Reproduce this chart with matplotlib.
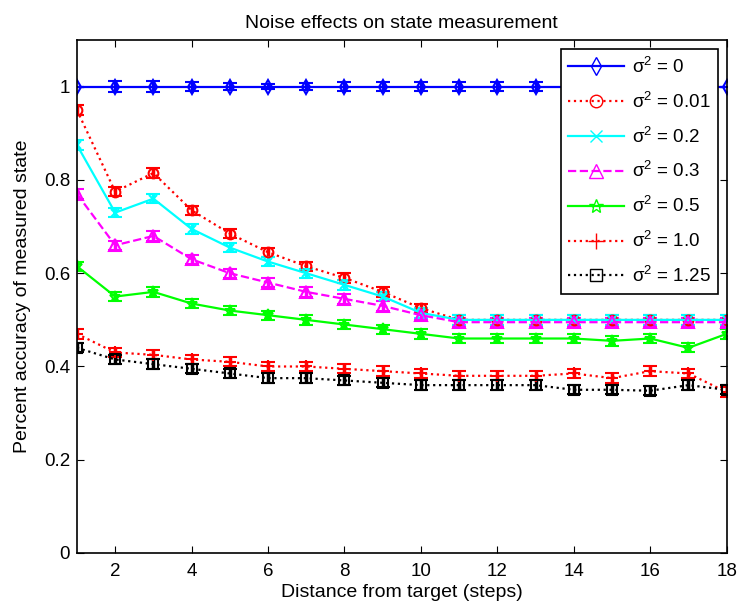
import matplotlib
matplotlib.use("Agg")
import matplotlib.pyplot as plt
from matplotlib.lines import Line2D

plt.rcParams['font.family'] = ['Liberation Sans', 'DejaVu Sans']
plt.rcParams['mathtext.fontset'] = 'custom'
plt.rcParams['mathtext.rm'] = 'Liberation Sans'

x = list(range(1, 19))
labels = ['σ$^2$ = 0', 'σ$^2$ = 0.01', 'σ$^2$ = 0.2', 'σ$^2$ = 0.3',
          'σ$^2$ = 0.5', 'σ$^2$ = 1.0', 'σ$^2$ = 1.25']

s0 = [1.0] * 18
s001 = [0.95, 0.775, 0.815, 0.735, 0.685, 0.645, 0.615, 0.59, 0.56, 0.525,
        0.5, 0.5, 0.5, 0.5, 0.5, 0.5, 0.5, 0.5]
s02 = [0.875, 0.73, 0.76, 0.695, 0.655, 0.625, 0.6, 0.575, 0.55, 0.515,
       0.5, 0.5, 0.5, 0.5, 0.5, 0.5, 0.5, 0.5]
s03 = [0.77, 0.66, 0.68, 0.63, 0.6, 0.58, 0.56, 0.545, 0.53, 0.51,
       0.495, 0.495, 0.495, 0.495, 0.495, 0.495, 0.495, 0.495]
s05 = [0.615, 0.55, 0.56, 0.535, 0.52, 0.51, 0.5, 0.49, 0.48, 0.47,
       0.46, 0.46, 0.46, 0.46, 0.455, 0.46, 0.44, 0.47]
s10 = [0.47, 0.43, 0.425, 0.415, 0.41, 0.4, 0.4, 0.395, 0.39, 0.385,
       0.38, 0.38, 0.38, 0.385, 0.375, 0.39, 0.385, 0.345]
s125 = [0.44, 0.415, 0.405, 0.395, 0.385, 0.375, 0.375, 0.37, 0.365, 0.36,
        0.36, 0.36, 0.36, 0.35, 0.35, 0.348, 0.36, 0.35]

err0 = [0.0, 0.012, 0.012, 0.01, 0.008, 0.005, 0.008, 0.01, 0.01, 0.01,
        0.01, 0.01, 0.01, 0.01, 0.01, 0.01, 0.01, 0.0]
err = [0.01] * 18

series = [s0, s001, s02, s03, s05, s10, s125]
errs = [err0, err, err, err, err, err, err]
colors = ['#0000ff', '#ff0000', '#00ffff', '#ff00ff', '#00ff00', '#ff0000', '#000000']
markers = ['d', 'o', 'x', '^', '*', '+', 's']
styles = ['-', ':', '-', '--', '-', ':', ':']
msizes = [7, 7, 6, 8, 8, 9, 7]

fig = plt.figure(figsize=(7.4, 6.08), dpi=100)
ax = fig.add_axes([0.104, 0.0905, 0.878, 0.8435])

handles = []
for y, e, c, m, ls, ms, lab in zip(series, errs, colors, markers, styles, msizes, labels):
    ax.errorbar(x, y, yerr=e, color=c, marker=m, linestyle=ls, linewidth=1.6,
                markersize=ms, markerfacecolor='none', markeredgewidth=1.5,
                capsize=5, elinewidth=2.5, capthick=2.5)
    handles.append(Line2D([], [], color=c, marker=m, linestyle=ls, linewidth=1.6,
                          markersize=ms + 2, markerfacecolor='none',
                          markeredgewidth=1.0, label=lab))

ax.set_xlim(1, 18)
ax.set_ylim(0, 1.1)
ax.set_xticks([2, 4, 6, 8, 10, 12, 14, 16, 18])
ax.set_yticks([0, 0.2, 0.4, 0.6, 0.8, 1.0])
ax.set_yticklabels(['0', '0.2', '0.4', '0.6', '0.8', '1'])
ax.tick_params(direction='in', top=True, right=True, labelsize=13.5, length=5)
ax.tick_params(axis='x', pad=7)
ax.tick_params(axis='y', pad=5)
for sp in ax.spines.values():
    sp.set_linewidth(1.2)

ax.set_title('Noise effects on state measurement', fontsize=14, pad=9)
ax.set_xlabel('Distance from target (steps)', fontsize=14, labelpad=3)
ax.set_ylabel('Percent accuracy of measured state', fontsize=14, labelpad=9)

leg = ax.legend(handles=handles, loc='upper right', fontsize=13.5, frameon=True,
                fancybox=False, edgecolor='black', handlelength=3.0,
                borderaxespad=0.45, labelspacing=0.75, handletextpad=0.4,
                borderpad=0.4, framealpha=1)
leg.get_frame().set_linewidth(1.2)
leg.set_zorder(10)

fig.savefig('out.png', dpi=100)
